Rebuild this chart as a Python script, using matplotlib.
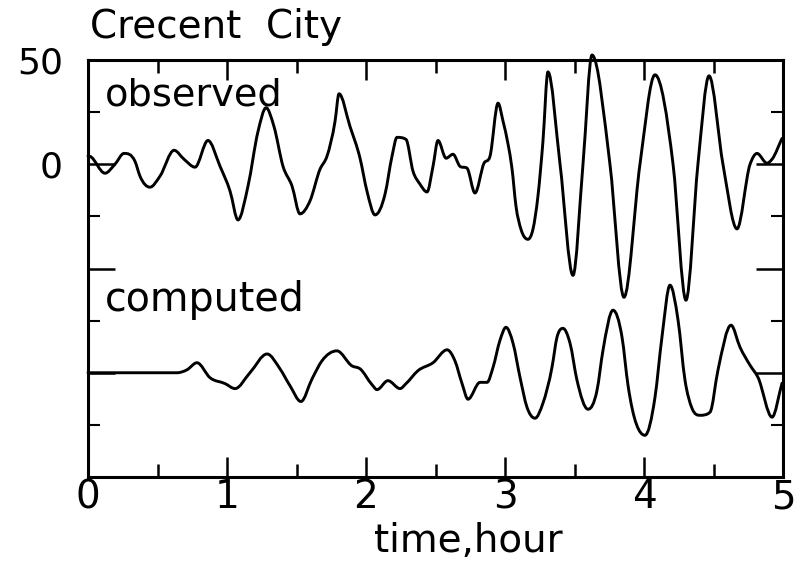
import numpy as np
import matplotlib
matplotlib.use("Agg")
import matplotlib.pyplot as plt
from matplotlib.path import Path
from matplotlib.patches import PathPatch
from matplotlib.ticker import MultipleLocator

plt.rcParams['font.family'] = ['DejaVu Sans']

# Tide gauge record, Crescent City (time in hours, amplitude in cm)
obs_time = [0.0, 0.014, 0.122, 0.194, 0.259, 0.338, 0.374, 0.446, 0.518, 0.619,
            0.691, 0.770, 0.863, 0.950, 1.022, 1.079, 1.151, 1.223, 1.281, 1.338,
            1.403, 1.468, 1.525, 1.597, 1.669, 1.719, 1.777, 1.806, 1.885, 1.957,
            2.007, 2.065, 2.137, 2.187, 2.223, 2.288, 2.338, 2.388, 2.439, 2.482,
            2.518, 2.576, 2.626, 2.676, 2.727, 2.784, 2.849, 2.892, 2.950, 2.986,
            3.022, 3.050, 3.079, 3.115, 3.165, 3.201, 3.237, 3.273, 3.309, 3.396,
            3.489, 3.561, 3.626, 3.755, 3.856, 3.971, 4.079, 4.209, 4.302, 4.388,
            4.468, 4.568, 4.669, 4.763, 4.813, 4.885, 4.921, 4.993]
obs_value = [4.0, 3.8, -4.3, 0.0, 5.2, 1.4, -5.7, -11.0, -5.7, 6.7,
             2.4, -1.4, 11.4, -1.0, -12.9, -26.7, -10.5, 15.7, 27.1, 18.1,
             -1.0, -10.5, -23.8, -17.6, -2.4, 3.8, 20.5, 33.8, 18.1, 2.9,
             -12.9, -24.3, -14.3, 3.8, 12.9, 11.9, -3.3, -9.5, -13.3, -1.0,
             11.4, 2.9, 4.8, -1.0, -1.9, -13.8, 0.5, 3.8, 29.3, 20.6,
             9.6, -1.9, -20.1, -31.2, -36.0, -31.2, -15.3, 11.0, 44.3, 0.0,
             -53.3, 0.0, 52.4, 0.0, -63.8, 0.0, 42.9, 0.0, -65.2, 0.0,
             42.4, 0.0, -31.0, 0.0, 5.2, 0.5, 2.4, 12.4]

# Numerical model result at the same gauge
cmp_time = [0.0, 0.640, 0.712, 0.784, 0.878, 0.986, 1.058, 1.165, 1.288, 1.381,
            1.453, 1.532, 1.612, 1.683, 1.791, 1.899, 1.957, 2.043, 2.079, 2.158,
            2.245, 2.288, 2.374, 2.482, 2.583, 2.640, 2.691, 2.734, 2.820, 2.871,
            2.914, 2.964, 3.007, 3.058, 3.108, 3.158, 3.216, 3.273, 3.338, 3.374,
            3.417, 3.468, 3.518, 3.597, 3.662, 3.705, 3.777, 3.842, 3.885, 4.007,
            4.079, 4.129, 4.187, 4.245, 4.295, 4.345, 4.403, 4.475, 4.532, 4.626,
            4.691, 4.763, 4.820, 4.921, 4.993]
cmp_value = [0.0, 0.0, 1.4, 4.8, -2.4, -5.2, -7.6, 0.0, 9.0, 1.9,
             -6.2, -13.8, -2.9, 5.7, 10.5, 3.3, 1.9, -5.7, -8.1, -3.8,
             -7.6, -5.2, 1.0, 4.8, 11.0, 5.7, -5.2, -12.7, -4.6, -4.6,
             2.6, 15.6, 21.8, 14.1, -2.2, -16.5, -21.8, -14.6, 2.6, 17.0,
             21.3, 14.1, -3.6, -17.5, -8.4, 10.8, 30.0, 17.0, -6.0, -30.0,
             -11.8, 17.0, 42.0, 25.2, -3.6, -17.0, -20.4, -18.9, 1.2, 22.8,
             12.2, 3.6, -2.2, -21.3, -5.0]
cmp_offset = -100.0

x_ticks = [0, 1, 2, 3, 4, 5]
y_ticks = [50, 0, -50, -100, -150]
y_tick_labels = ['50', '0', '', '', '']


def smooth_path(x, y):
    """Cubic Bezier path through the samples: three-point slopes, flat at
    turning points and limited so no segment overshoots its end values."""
    x = np.asarray(x, float)
    y = np.asarray(y, float)
    h = np.diff(x)
    d = np.diff(y) / h
    m = np.zeros_like(y)
    m[0], m[-1] = d[0], d[-1]
    for k in range(1, len(y) - 1):
        if d[k - 1] * d[k] <= 0:
            continue
        s = (h[k] * d[k - 1] + h[k - 1] * d[k]) / (h[k - 1] + h[k])
        lim = 3 * min(abs(d[k - 1]), abs(d[k]))
        m[k] = np.sign(s) * min(abs(s), lim)
    verts = [(x[0], y[0])]
    codes = [Path.MOVETO]
    for k in range(len(h)):
        verts += [(x[k] + h[k] / 3, y[k] + m[k] * h[k] / 3),
                  (x[k + 1] - h[k] / 3, y[k + 1] - m[k + 1] * h[k] / 3),
                  (x[k + 1], y[k + 1])]
        codes += [Path.CURVE4] * 3
    return Path(verts, codes)


fig = plt.figure(figsize=(7.99, 5.65), dpi=100)
ax = fig.add_axes([88 / 799, 1 - 477 / 565, 695 / 799, 417 / 565])

for t, v in ((obs_time, obs_value),
             (cmp_time, np.asarray(cmp_value) + cmp_offset)):
    ax.add_patch(PathPatch(smooth_path(t, v), fill=False, edgecolor='black',
                           linewidth=2.1, clip_on=False,
                           capstyle='round', joinstyle='round'))

ax.set_xlim(0, 5)
ax.set_ylim(-150, 50)

ax.set_xticks(x_ticks)
ax.set_xticklabels([str(v) for v in x_ticks])
ax.xaxis.set_minor_locator(MultipleLocator(0.5))
ax.set_yticks(y_ticks)
ax.set_yticklabels(y_tick_labels)
ax.yaxis.set_minor_locator(MultipleLocator(25))

ax.tick_params(axis='x', which='major', direction='in', length=14.5, width=1.8,
               top=True, labelsize=28, pad=1)
ax.tick_params(axis='x', which='minor', direction='in', length=9.5, width=1.8,
               top=True)
ax.tick_params(axis='y', which='major', direction='in', length=19.5, width=1.8,
               right=True, labelsize=26, pad=18)
ax.tick_params(axis='y', which='minor', direction='in', length=8.5, width=1.5,
               right=True)

for s in ax.spines.values():
    s.set_linewidth(2.2)

ax.set_xlabel("time,hour", fontsize=28, va='baseline')
ax.xaxis.set_label_coords((468 - 88) / 695, -(552 - 477) / 417)

fig.text(90 / 799, 1 - 38 / 565, "Crecent  City", fontsize=28,
         ha='left', va='baseline')
fig.text(105 / 799, 1 - 105 / 565, "observed", fontsize=27.5,
         ha='left', va='baseline')
fig.text(105 / 799, 1 - 311 / 565, "computed", fontsize=28.5,
         ha='left', va='baseline')

fig.savefig("out.png", dpi=100, facecolor='white')
